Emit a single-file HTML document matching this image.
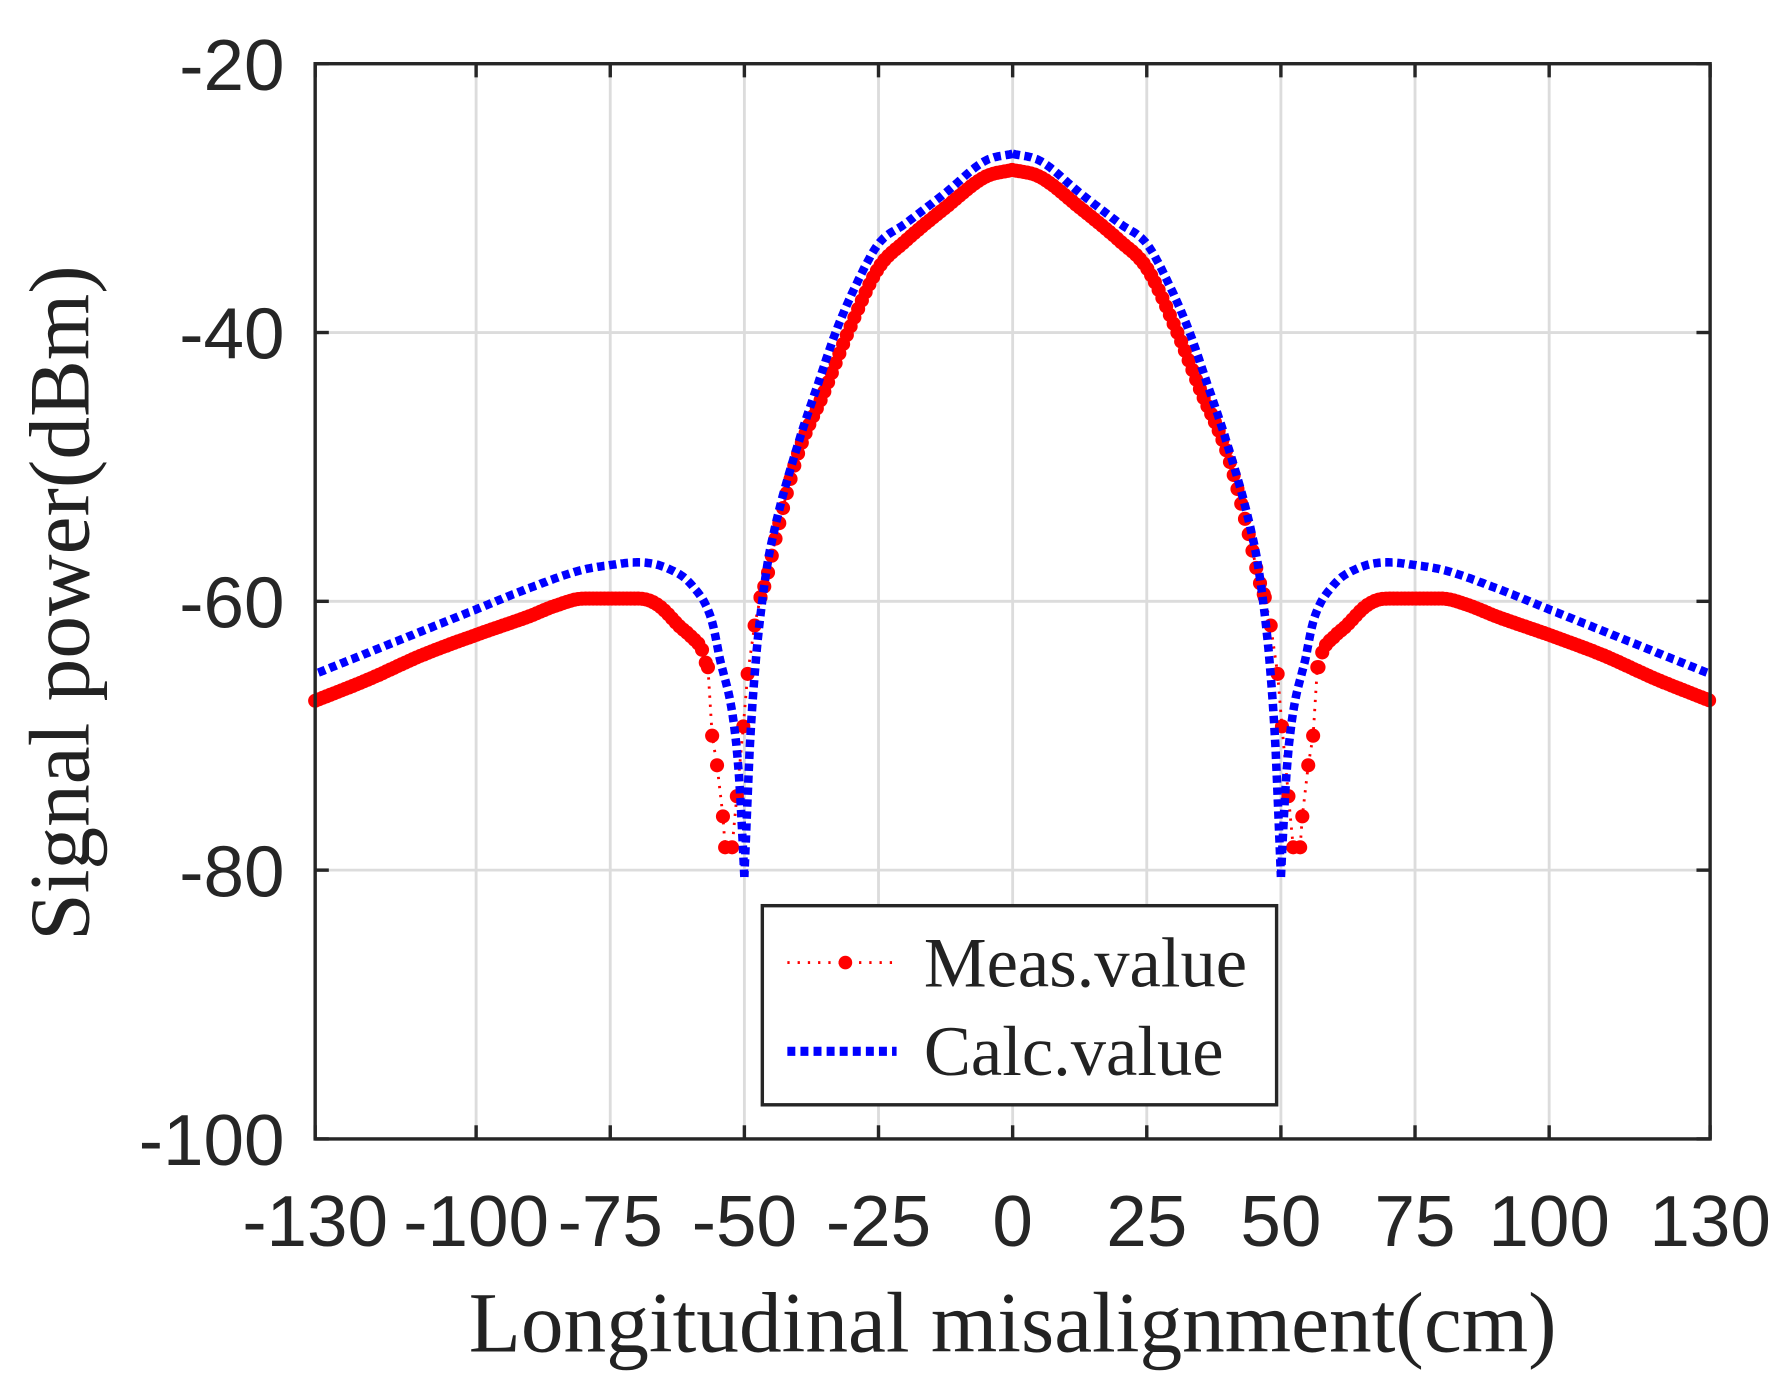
<!DOCTYPE html>
<html><head><meta charset="utf-8"><style>
html,body{margin:0;padding:0;background:#fff;}
svg{display:block}
.t{font-family:"Liberation Sans",sans-serif;font-size:64px;fill:#262626}
.s{font-family:"Liberation Serif",serif;fill:#222}
</style></head><body>
<svg id="c" width="1784" height="1392" viewBox="0 0 1784 1392" xmlns="http://www.w3.org/2000/svg">
<g id="g" transform="scale(1.1378)">
<rect x="0" y="0" width="1568" height="1224" fill="#fff"/>
<g id="grid" stroke="#dcdcdc" stroke-width="2.5"></g>
<g id="data"></g>
<rect x="277" y="56" width="1226" height="945" fill="none" stroke="#262626" stroke-width="3"/>
<g id="ticks" stroke="#262626" stroke-width="3"></g>
<g id="lab"></g>
<text class="s" x="890" y="1188" font-size="75" text-anchor="middle">Longitudinal misalignment(cm)</text>
<text class="s" transform="translate(78,530) rotate(-90)" font-size="75" text-anchor="middle">Signal power(dBm)</text>
<rect x="670" y="796" width="452" height="175" fill="#fff" stroke="#262626" stroke-width="3"/>
<line x1="692" y1="846" x2="788" y2="846" stroke="#f00" stroke-width="2.5" stroke-dasharray="2,7"/>
<circle cx="743" cy="846" r="6" fill="#f00"/>
<text class="s" x="812" y="867" font-size="62">Meas.value</text>
<line x1="692" y1="924" x2="788" y2="924" stroke="#00f" stroke-width="8" stroke-dasharray="7,4.5"/>
<text class="s" x="812" y="945" font-size="62">Calc.value</text>
</g>
</svg>
<script>
var NS="http://www.w3.org/2000/svg";
function X(v){return 890+v*4.7154;}
function Y(d){return 56+(-20-d)*11.8125;}
function el(p,t,a,txt){var e=document.createElementNS(NS,t);for(var k in a)e.setAttribute(k,a[k]);if(txt!==undefined)e.textContent=txt;document.getElementById(p).appendChild(e);return e;}
var xt=[-130,-100,-75,-50,-25,0,25,50,75,100,130];
xt.forEach(function(v){var x=X(v);
 if(v>-130&&v<130)el("grid","line",{x1:x,y1:56,x2:x,y2:1001});
 el("ticks","line",{x1:x,y1:1001,x2:x,y2:989});el("ticks","line",{x1:x,y1:56,x2:x,y2:68});
 el("lab","text",{"class":"t",x:x,y:1095,"text-anchor":"middle"},String(v));});
[-20,-40,-60,-80,-100].forEach(function(v){var y=Y(v);
 if(v>-100&&v<-20)el("grid","line",{x1:277,y1:y,x2:1503,y2:y});
 el("ticks","line",{x1:277,y1:y,x2:289,y2:y});el("ticks","line",{x1:1503,y1:y,x2:1491,y2:y});
 el("lab","text",{"class":"t",x:250,y:y+23,"text-anchor":"end"},String(v));});
// monotone cubic interpolation
function mk(pts){var n=pts.length,xs=pts.map(function(p){return p[0]}),ys=pts.map(function(p){return p[1]}),d=[],m=[];
 for(var i=0;i<n-1;i++)d.push((ys[i+1]-ys[i])/(xs[i+1]-xs[i]));
 m[0]=d[0];m[n-1]=d[n-2];
 for(var i=1;i<n-1;i++){m[i]=(d[i-1]*d[i]<=0)?0:(d[i-1]+d[i])/2;}
 for(var i=0;i<n-1;i++){if(d[i]==0){m[i]=0;m[i+1]=0;continue;}var a=m[i]/d[i],b=m[i+1]/d[i],s=a*a+b*b;if(s>9){var t=3/Math.sqrt(s);m[i]=t*a*d[i];m[i+1]=t*b*d[i];}}
 return function(x){var i=0;while(i<n-2&&x>xs[i+1])i++;var h=xs[i+1]-xs[i],t=(x-xs[i])/h;if(t<0)t=0;if(t>1)t=1;
  var t2=t*t,t3=t2*t;return (2*t3-3*t2+1)*ys[i]+(t3-2*t2+t)*h*m[i]+(-2*t3+3*t2)*ys[i+1]+(t3-t2)*h*m[i+1];};}
var bm=mk([[0,-26.7],[5,-27.2],[12.5,-29.6],[20,-31.9],[25,-33.4],[29,-36.3],[33,-40],[36,-43.5],[40,-48.3],[44,-54],[46,-58],[48,-65],[49,-71],[50,-80.5]]);
var bs=mk([[50,-80.5],[51,-73],[52,-69],[52.7,-67.3],[54.5,-64.4],[56.1,-61.4],[59.8,-58.8],[64,-57.6],[69.8,-57.1],[75,-57.3],[80.6,-57.7],[90,-59],[100,-60.6],[115,-63],[130,-65.4]]);
function path(f,a,b,sign,step){var d="";for(var x=a;x<=b+1e-9;x+=step){d+=(d?"L":"M")+X(sign*x).toFixed(1)+","+Y(f(x)).toFixed(1);}return d;}
var rm=mk([[0,-27.9],[5,-28.4],[12.5,-30.7],[20,-33.2],[25,-35.2],[30.7,-40],[35,-44.3],[40,-49],[44,-55],[46,-58.5],[47,-59.7]]);
var rs=mk([[57,-64.9],[57.7,-63.8],[60,-62.6],[62,-61.9],[65.7,-60.4],[68,-59.9],[70,-59.8],[80,-59.8],[85,-60.3],[90,-61.1],[100,-62.5],[110,-64],[120,-65.8],[130,-67.4]]);
var nullIn=[[47,-59.7],[48.1,-61.8],[49.4,-65.4],[50.2,-69.3],[51.4,-74.5],[52.3,-78.3]];
var nullOut=[[53.6,-78.3],[54,-76],[55.1,-72.2],[56,-70],[56.8,-64.9]];
var pts=[];
for(var x=130;x>=57;x-=0.7)pts.push([-x,rs(x)]);
nullOut.slice().reverse().forEach(function(p){pts.push([-p[0],p[1]]);});
nullIn.slice().reverse().forEach(function(p){pts.push([-p[0],p[1]]);});
for(var x=-47;x<=47;x+=0.7)pts.push([x,rm(Math.abs(x))]);
nullIn.forEach(function(p){pts.push(p);});
nullOut.forEach(function(p){pts.push(p);});
for(var x=57;x<=130;x+=0.7)pts.push([x,rs(x)]);
var d="";pts.forEach(function(p){d+=(d?"L":"M")+X(p[0]).toFixed(1)+","+Y(p[1]).toFixed(1);});
el("data","path",{d:d,fill:"none",stroke:"#f00","stroke-width":2.5,"stroke-dasharray":"2,6"});
pts.forEach(function(p){el("data","circle",{cx:X(p[0]).toFixed(1),cy:Y(p[1]).toFixed(1),r:6.2,fill:"#f00"});});
var bd=path(bm,0,50,1,0.25)+path(bm,0,50,-1,0.25)+path(bs,50,130,1,0.25)+path(bs,50,130,-1,0.25);
el("data","path",{d:bd,fill:"none",stroke:"#00f","stroke-width":7.5,"stroke-dasharray":"6.5,4"});
</script>
</body></html>
